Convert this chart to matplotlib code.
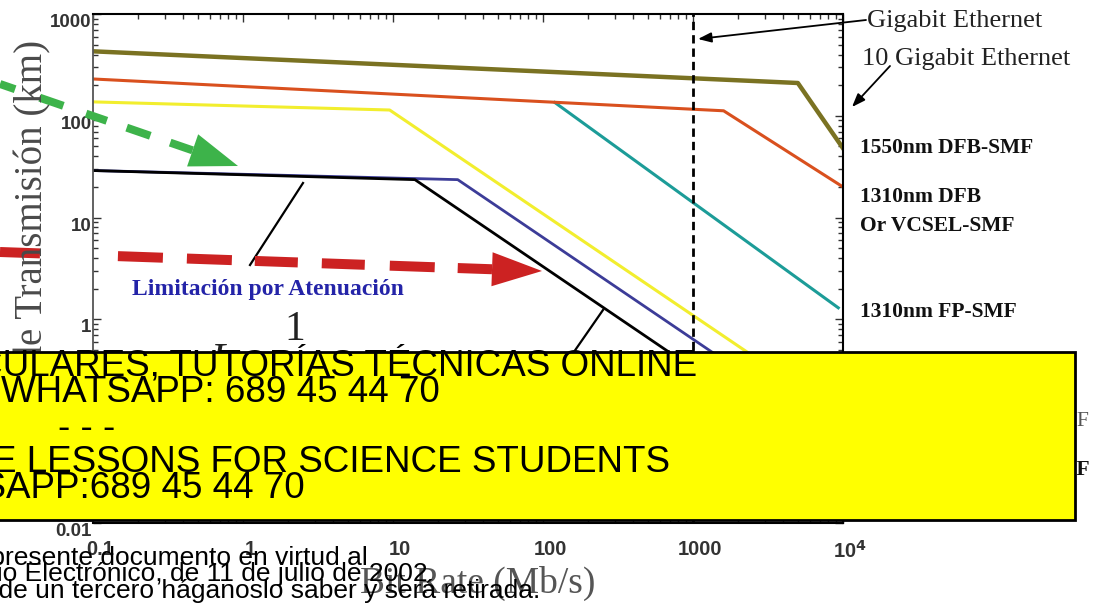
import numpy as np
import matplotlib.pyplot as plt
from matplotlib.lines import Line2D
from matplotlib.patches import Rectangle, Polygon
from matplotlib.ticker import NullFormatter
from matplotlib.transforms import ScaledTranslation

plt.rcParams['font.family'] = ['Liberation Sans', 'DejaVu Sans']

# ---------------------------------------------------------------
# DATA  (bit rate in Mb/s, distance in km)
# ---------------------------------------------------------------
rate_1550_dfb = [0.1, 5000, 10000]
dist_1550_dfb = [430, 210, 48]

rate_1310_dfb = [0.1, 1600, 10000]
dist_1310_dfb = [230, 112, 20]

rate_1310_fp = [120, 9300]
dist_1310_fp = [135, 1.3]

rate_yellow = [0.1, 9.5, 10000]
dist_yellow = [137, 114, 0.11]

rate_blue = [0.1, 27, 10000]
dist_blue = [29, 23.6, 0.064]

rate_black = [0.1, 14, 10000]
dist_black = [29, 23.6, 0.033]

gigabit_rates = [1000]

x_ticks = [0.1, 1, 10, 100, 1000, 1e4]
x_labels = ['0.1', '1', '10', '100', '1000', '10$^\\mathbf{4}$']
y_ticks = [0.01, 0.1, 1, 10, 100, 1000]
y_labels = ['0.01', '0.1', '1', '10', '100', '1000']

right_labels = [('1550nm DFB-SMF', 148), ('1310nm DFB', 197),
                ('Or VCSEL-SMF', 226), ('1310nm FP-SMF', 312)]

# ---------------------------------------------------------------
# FIGURE
# ---------------------------------------------------------------
W, H = 1096, 607
fig = plt.figure(figsize=(W / 100, H / 100), dpi=100)


def fx(px):
    return px / W


def fy(py):
    return 1 - py / H


ax = fig.add_axes([fx(93), fy(523), 750 / W, 509 / H])
ax.set_xscale('log')
ax.set_yscale('log')
ax.set_xlim(0.1, 1e4)
ax.set_ylim(0.01, 1000)

ax.plot(rate_yellow, dist_yellow, color='#f2ee2e', lw=2.2, solid_joinstyle='round')
ax.plot(rate_1310_fp, dist_1310_fp, color='#1c9c98', lw=2.2)
ax.plot(rate_1310_dfb, dist_1310_dfb, color='#d9501e', lw=2.2)
ax.plot(rate_1550_dfb, dist_1550_dfb, color='#7a7222', lw=3.2)
ax.plot(rate_blue, dist_blue, color='#3c3c98', lw=2.0)
ax.plot(rate_black, dist_black, color='black', lw=2.0)

for r in gigabit_rates:
    ax.axvline(r, color='black', lw=2, linestyle=(0, (3, 1.8)))

ax.set_xticks(x_ticks, x_labels)
ax.set_yticks(y_ticks, y_labels)
ax.xaxis.set_minor_formatter(NullFormatter())
ax.yaxis.set_minor_formatter(NullFormatter())
ax.tick_params(which='both', direction='in', top=True, right=True, width=1, color='#333')
ax.tick_params(which='major', length=6)
ax.tick_params(which='minor', length=3.5)
ax.tick_params(axis='x', pad=12, labelsize=14.5, labelcolor='#333')
ax.tick_params(axis='y', pad=1, labelsize=13.5, labelcolor='#333')
plt.setp(ax.get_xticklabels() + ax.get_yticklabels(), fontweight='bold')
plt.setp(ax.get_yticklabels(), va='top')
shift = ScaledTranslation(7 / 100, 0, fig.dpi_scale_trans)
for lbl in ax.get_xticklabels():
    lbl.set_transform(lbl.get_transform() + shift)
for s in ['top', 'right', 'bottom']:
    ax.spines[s].set_linewidth(1.5)
    ax.spines[s].set_color('black')
ax.spines['left'].set_linewidth(1.3)
ax.spines['left'].set_color('#555')

# axis titles
fig.text(fx(33), fy(40), 'Distancia de Transmisión (km)', rotation=90, ha='center',
         va='top', fontsize=28, family='Liberation Serif', color='#4a4a4a')
fig.text(fx(478), fy(566), 'Bit Rate (Mb/s)', ha='center', va='top', fontsize=27,
         family='Liberation Serif', color='#555', zorder=3)

# annotations inside the plot
fig.text(fx(132), fy(289), 'Limitación por Atenuación', ha='left', va='center',
         fontsize=17, fontweight='bold', family='Liberation Serif', color='#2424a8')
fig.text(fx(295), fy(340), '1', ha='center', va='baseline', fontsize=30,
         family='Liberation Serif', color='#222')
fig.text(fx(222), fy(372), 'L', ha='center', va='baseline', fontsize=30,
         family='Liberation Serif', style='italic', color='#222')
for (x0, y0), (x1, y1) in [((303, 183), (250, 265)), ((603, 310), (560, 372))]:
    fig.add_artist(Line2D([fx(x0), fx(x1)], [fy(y0), fy(y1)], color='black', lw=1.6,
                          transform=fig.transFigure))

# right-hand labels
fig.text(fx(867), fy(21), 'Gigabit Ethernet', ha='left', va='center', fontsize=19,
         family='Liberation Serif', color='#222')
fig.text(fx(862), fy(59), '10 Gigabit Ethernet', ha='left', va='center', fontsize=19,
         family='Liberation Serif', color='#222')
for txt, yy in right_labels:
    fig.text(fx(860), fy(yy), txt, ha='left', va='center', fontsize=15.5,
             fontweight='bold', family='Liberation Serif', color='#111')
fig.text(fx(1089), fy(422), '850nm VCSEL-MMF', ha='right', va='center', fontsize=15.5,
         family='Liberation Serif', color='#555')
fig.text(fx(1090), fy(470), '1310nm LED-MMF', ha='right', va='center', fontsize=15.5,
         fontweight='bold', family='Liberation Serif', color='#111')

ax.annotate('', xy=(fx(698), fy(39)), xycoords='figure fraction',
            xytext=(fx(866), fy(20)), textcoords='figure fraction',
            arrowprops=dict(arrowstyle='-|>,head_length=0.8,head_width=0.3', color='black',
                            lw=1.3, shrinkA=0, shrinkB=0, mutation_scale=10))
ax.annotate('', xy=(fx(852), fy(107)), xycoords='figure fraction',
            xytext=(fx(890), fy(66)), textcoords='figure fraction',
            arrowprops=dict(arrowstyle='-|>,head_length=0.8,head_width=0.3', color='black',
                            lw=1.3, shrinkA=0, shrinkB=0, mutation_scale=10))


# dashed overlay arrows (dash pattern given in pixels)
def dashed_arrow(p0, tip, color, lw_px, dash_px, head_len, head_half):
    p0 = np.array(p0, float)
    tip = np.array(tip, float)
    d = (tip - p0) / np.hypot(*(tip - p0))
    n = np.array([-d[1], d[0]])
    base = tip - d * head_len
    dash = tuple(v / lw_px for v in dash_px)
    fig.add_artist(Line2D([fx(p0[0]), fx(base[0])], [fy(p0[1]), fy(base[1])],
                          color=color, lw=lw_px * 0.72, dash_capstyle='butt',
                          linestyle=(0, dash), transform=fig.transFigure))
    pts = [tip, base + n * head_half, base - n * head_half]
    fig.add_artist(Polygon([(fx(p[0]), fy(p[1])) for p in pts], closed=True,
                           color=color, lw=0, transform=fig.transFigure))


dashed_arrow((0, 84), (238, 166), '#3db34a', 8,
             [16, 26, 25, 24, 22, 21, 25, 21, 40, 10], 48, 17)
dashed_arrow((0, 252), (542, 271), '#cc2222', 10,
             [40, 78, 45, 24, 45, 23, 43, 24, 43, 25, 45, 23, 60, 10], 50, 17)

# yellow advert box
fig.add_artist(Rectangle((fx(-10), fy(520)), fx(1085), 168 / H, facecolor='#ffff00',
                         edgecolor='black', lw=2, transform=fig.transFigure, zorder=5))
box_lines = [('CLASES PARTICULARES, TUTORÍAS TÉCNICAS ONLINE', 697, 376),
             ('LLAMA O ENVÍA WHATSAPP: 689 45 44 70', 440, 402),
             ('- - -', 115, 438),
             ('ONLINE PRIVATE LESSONS FOR SCIENCE STUDENTS', 670, 472),
             ('CALL OR WHATSAPP:689 45 44 70', 305, 498)]
for txt, xr, yb in box_lines:
    fig.text(fx(xr), fy(yb), txt, ha='right', va='baseline', fontsize=26.5,
             color='black', zorder=6)

# legal notice at the bottom
notice = [('Si considera que algún derecho de autor se ha infringido con el presente documento en virtud al', 368, 565),
          ('artículo 17.1 de la Ley 34/2002, de Servicios de la Sociedad de la Información y de Comercio Electrónico, de 11 de julio de 2002', 428, 581),
          ('Si la información es propiedad de un tercero háganoslo saber y será retirada.', 540, 598)]
for txt, xr, yb in notice:
    fig.text(fx(xr), fy(yb), txt, ha='right', va='baseline', fontsize=19,
             color='black', zorder=7)

fig.savefig('out.png', dpi=100)
